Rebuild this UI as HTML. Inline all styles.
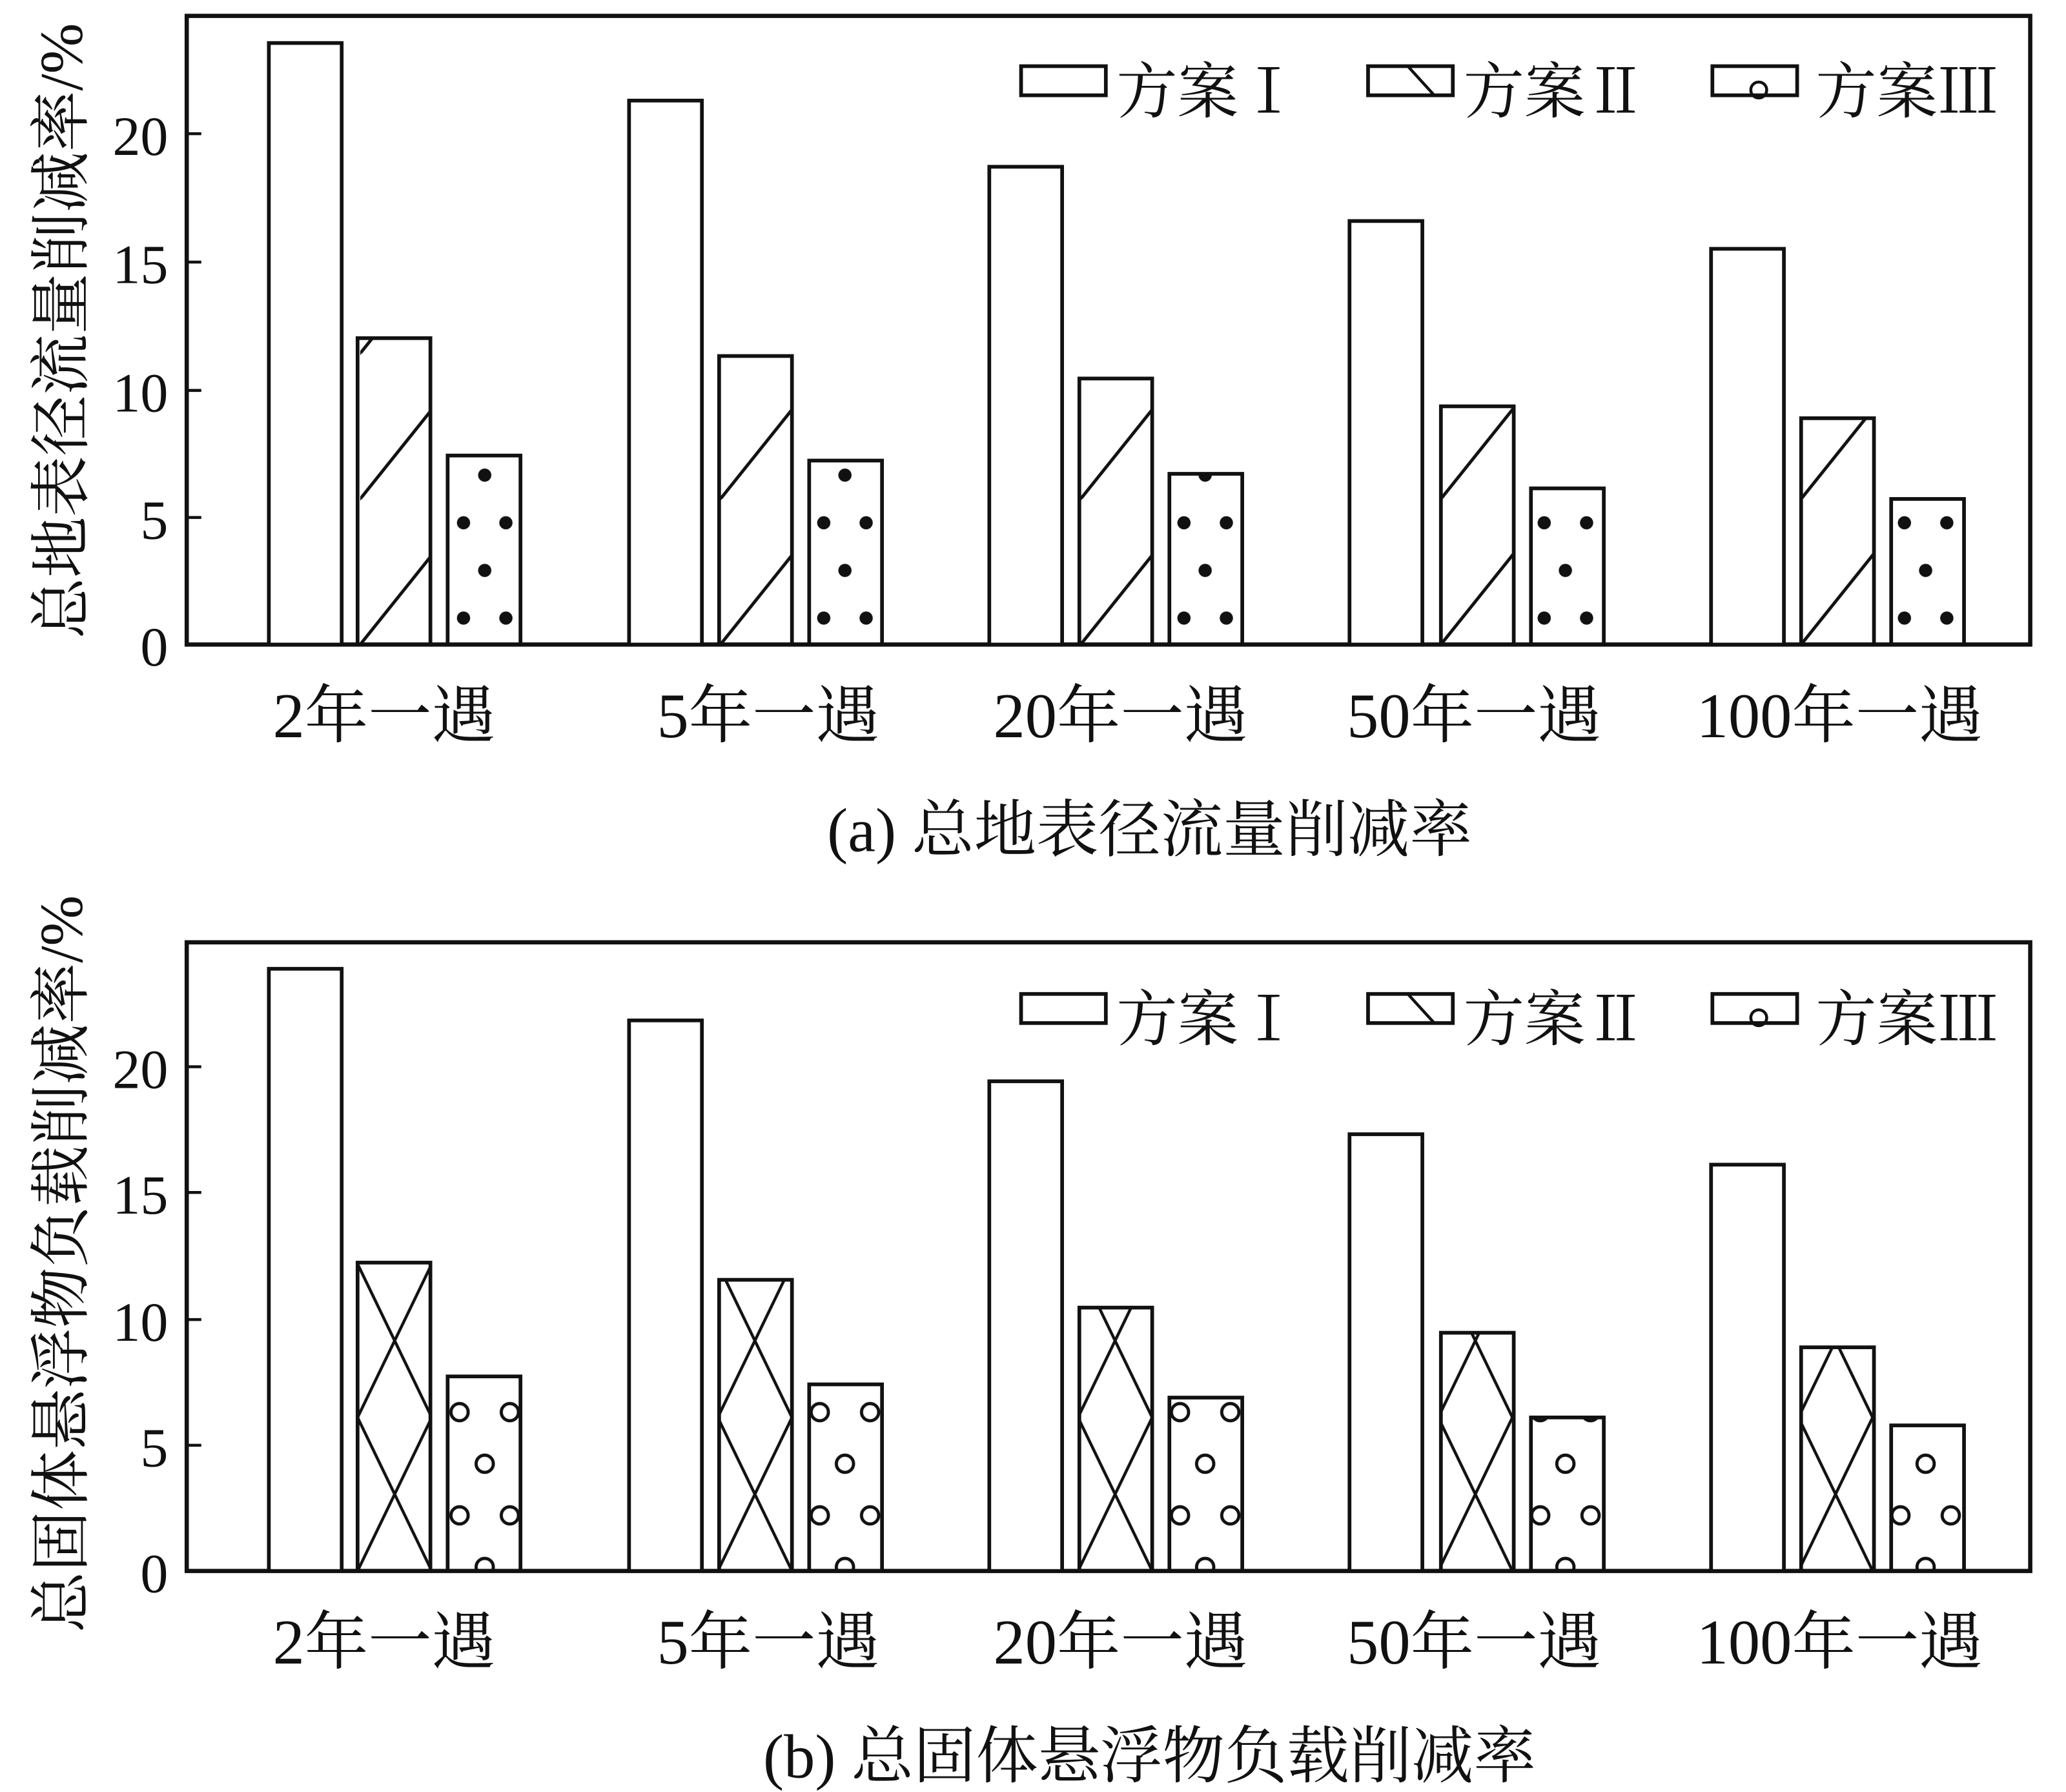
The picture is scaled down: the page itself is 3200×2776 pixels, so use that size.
<!DOCTYPE html>
<html><head><meta charset="utf-8"><style>html,body{margin:0;padding:0;background:#fff}svg{display:block}</style></head><body>
<svg width="3200" height="2776" viewBox="0 0 1560 1354" preserveAspectRatio="none" xmlns="http://www.w3.org/2000/svg" font-family="'Liberation Serif','Noto Serif CJK SC',serif" fill="#111">
<defs>
<pattern id="hA" patternUnits="userSpaceOnUse" width="68" height="110" x="0" y="487">
<path d="M0,110 L56,40" stroke="#111" stroke-width="2.4" fill="none"/>
<path d="M-10,12 L22,-28" stroke="#111" stroke-width="2.4"/>
</pattern>
<pattern id="hB" patternUnits="userSpaceOnUse" width="68" height="116" x="270" y="1187">
<path d="M0,0 L56,116 M56,0 L0,116" stroke="#111" stroke-width="2.2" fill="none"/>
</pattern>
<pattern id="dA" patternUnits="userSpaceOnUse" width="68" height="72" x="338" y="487">
<circle cx="12" cy="-20" r="5"/><circle cx="44" cy="-20" r="5"/>
<circle cx="12" cy="52" r="5"/><circle cx="44" cy="52" r="5"/>
<circle cx="28" cy="16" r="5"/>
</pattern>
<pattern id="dB" patternUnits="userSpaceOnUse" width="68" height="78" x="338" y="1187">
<g fill="none" stroke="#111" stroke-width="2.4">
<circle cx="28" cy="-3" r="6.5"/><circle cx="28" cy="75" r="6.5"/>
<circle cx="9" cy="36" r="6.5"/><circle cx="47" cy="36" r="6.5"/>
</g>
</pattern>
</defs>

<g>
<rect x="141" y="12" width="1392" height="475" fill="none" stroke="#111" stroke-width="3.2"/>
<g stroke="#111" stroke-width="2.2"><line x1="141" y1="391" x2="152" y2="391"/><line x1="141" y1="295" x2="152" y2="295"/><line x1="141" y1="198" x2="152" y2="198"/><line x1="141" y1="101" x2="152" y2="101"/></g>
<g font-size="42" text-anchor="end"><text x="127" y="503">0</text><text x="127" y="407">5</text><text x="127" y="311">10</text><text x="127" y="214">15</text><text x="127" y="117">20</text></g>
<text transform="translate(62,250) rotate(-90)" font-size="46" text-anchor="middle">总地表径流量削减率/%</text>
<g stroke="#111" stroke-width="2.8">
<rect x="203" y="32.5" width="55" height="454.5" fill="#fff"/><rect x="270" y="255.5" width="55" height="231.5" fill="url(#hA)"/><rect x="338" y="344.2" width="55" height="142.8" fill="url(#dA)"/>
<rect x="475" y="76" width="55" height="411" fill="#fff"/><rect x="543" y="269" width="55" height="218" fill="url(#hA)"/><rect x="611" y="348" width="55" height="139" fill="url(#dA)"/>
<rect x="747" y="126" width="55" height="361" fill="#fff"/><rect x="815" y="286" width="55" height="201" fill="url(#hA)"/><rect x="883" y="358" width="55" height="129" fill="url(#dA)"/>
<rect x="1019" y="167" width="55" height="320" fill="#fff"/><rect x="1088" y="307" width="55" height="180" fill="url(#hA)"/><rect x="1156" y="369" width="55" height="118" fill="url(#dA)"/>
<rect x="1292" y="188" width="55" height="299" fill="#fff"/><rect x="1360" y="316" width="55" height="171" fill="url(#hA)"/><rect x="1428" y="377" width="55" height="110" fill="url(#dA)"/>
</g>
<g stroke="#111" stroke-width="2.8" fill="#fff"><rect x="771" y="50" width="64" height="22"/><rect x="1033" y="50" width="64" height="22"/><rect x="1293" y="50" width="64" height="22"/></g>
<line x1="1063" y1="50" x2="1083" y2="72" stroke="#111" stroke-width="2.2"/>
<circle cx="1328" cy="68" r="6" fill="none" stroke="#111" stroke-width="2.2"/>
<g font-size="46"><text x="843" y="85">方案Ⅰ</text><text x="1105" y="85">方案Ⅱ</text><text x="1371" y="85">方案Ⅲ</text></g>
<g font-size="48" text-anchor="middle"><text x="290" y="557">2年一遇</text><text x="580" y="557">5年一遇</text><text x="846" y="557">20年一遇</text><text x="1113" y="557">50年一遇</text><text x="1389" y="557">100年一遇</text></g>
<text x="868" y="643" font-size="47" text-anchor="middle">(a) 总地表径流量削减率</text>
</g>

<g>
<rect x="141" y="712" width="1392" height="475" fill="none" stroke="#111" stroke-width="3.2"/>
<g stroke="#111" stroke-width="2.2"><line x1="141" y1="1092" x2="152" y2="1092"/><line x1="141" y1="997" x2="152" y2="997"/><line x1="141" y1="901" x2="152" y2="901"/><line x1="141" y1="806" x2="152" y2="806"/></g>
<g font-size="42" text-anchor="end"><text x="127" y="1203">0</text><text x="127" y="1108">5</text><text x="127" y="1013">10</text><text x="127" y="917">15</text><text x="127" y="822">20</text></g>
<text transform="translate(62,955) rotate(-90)" font-size="46" text-anchor="middle">总固体悬浮物负载削减率/%</text>
<g stroke="#111" stroke-width="2.8">
<rect x="203" y="732" width="55" height="455" fill="#fff"/><rect x="270" y="954" width="55" height="233" fill="url(#hB)"/><rect x="338" y="1040" width="55" height="147" fill="url(#dB)"/>
<rect x="475" y="771" width="55" height="416" fill="#fff"/><rect x="543" y="967" width="55" height="220" fill="url(#hB)"/><rect x="611" y="1046" width="55" height="141" fill="url(#dB)"/>
<rect x="747" y="817" width="55" height="370" fill="#fff"/><rect x="815" y="988" width="55" height="199" fill="url(#hB)"/><rect x="883" y="1056" width="55" height="131" fill="url(#dB)"/>
<rect x="1019" y="857" width="55" height="330" fill="#fff"/><rect x="1088" y="1007" width="55" height="180" fill="url(#hB)"/><rect x="1156" y="1071" width="55" height="116" fill="url(#dB)"/>
<rect x="1292" y="880" width="55" height="307" fill="#fff"/><rect x="1360" y="1018" width="55" height="169" fill="url(#hB)"/><rect x="1428" y="1077" width="55" height="110" fill="url(#dB)"/>
</g>
<g stroke="#111" stroke-width="2.8" fill="#fff"><rect x="771" y="751" width="64" height="22"/><rect x="1033" y="751" width="64" height="22"/><rect x="1293" y="751" width="64" height="22"/></g>
<line x1="1063" y1="751" x2="1083" y2="773" stroke="#111" stroke-width="2.2"/>
<circle cx="1328" cy="769" r="6" fill="none" stroke="#111" stroke-width="2.2"/>
<g font-size="46"><text x="843" y="786">方案Ⅰ</text><text x="1105" y="786">方案Ⅱ</text><text x="1371" y="786">方案Ⅲ</text></g>
<g font-size="48" text-anchor="middle"><text x="290" y="1257">2年一遇</text><text x="580" y="1257">5年一遇</text><text x="846" y="1257">20年一遇</text><text x="1113" y="1257">50年一遇</text><text x="1389" y="1257">100年一遇</text></g>
<text x="868" y="1343" font-size="47" text-anchor="middle">(b) 总固体悬浮物负载削减率</text>
</g>
</svg>
</body></html>
